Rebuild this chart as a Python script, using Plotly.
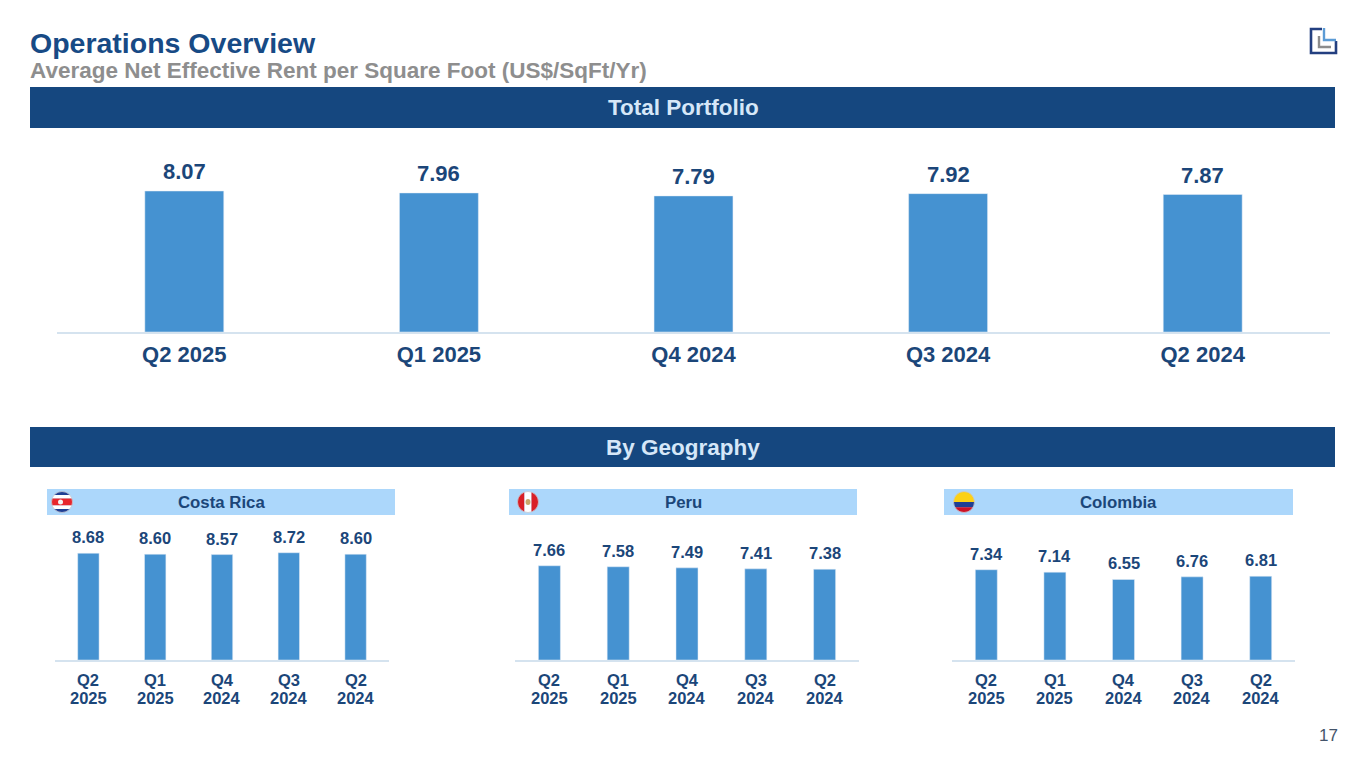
import numpy as np
import plotly.graph_objects as go

# ---------------- data ----------------
quarters = ["Q2 2025", "Q1 2025", "Q4 2024", "Q3 2024", "Q2 2024"]
total_portfolio = [8.07, 7.96, 7.79, 7.92, 7.87]
costa_rica = [8.68, 8.60, 8.57, 8.72, 8.60]
peru = [7.66, 7.58, 7.49, 7.41, 7.38]
colombia = [7.34, 7.14, 6.55, 6.76, 6.81]

W, H = 1365, 768
FONT = "Liberation Sans, Arial, sans-serif"
DARK = "#1b4679"
BAR = "#4592d1"
BANNER = "#15477f"
HEADER = "#acd7fb"
AXLINE = "#d5e3ef"


def px(x):
    return x / W


def py(y):
    return 1 - y / H


fig = go.Figure()

# ---- top chart ----
fig.add_trace(go.Bar(x=quarters, y=total_portfolio, marker_color=BAR, width=0.31,
                     xaxis="x", yaxis="y", showlegend=False, hoverinfo="skip"))
annotations = []
for q, v in zip(quarters, total_portfolio):
    annotations.append(dict(x=q, y=v, xref="x", yref="y", text=f"{v:.2f}", showarrow=False,
                            yanchor="bottom", yshift=5,
                            font=dict(family=FONT, size=22, color=DARK, weight="bold")))

layout_axes = dict(
    xaxis=dict(domain=[px(57), px(1330)], showline=True, linecolor=AXLINE, linewidth=1.5,
               ticks="", showgrid=False, zeroline=False, fixedrange=True, ticklabelstandoff=2,
               tickfont=dict(family=FONT, size=22, color=DARK, weight="bold"), anchor="y"),
    yaxis=dict(domain=[py(332), py(150)], range=[0, 182 / 17.47], visible=False, anchor="x"),
)

small = [
    ("Costa Rica", costa_rica, 55, 389, 47, 395),
    ("Peru", peru, 515, 859, 509, 857),
    ("Colombia", colombia, 952, 1295, 944, 1293),
]
for i, (name, vals, x0, x1, hx0, hx1) in enumerate(small, start=2):
    xa, ya = f"x{i}", f"y{i}"
    fig.add_trace(go.Bar(x=quarters, y=vals, marker_color=BAR, width=0.32,
                         xaxis=xa, yaxis=ya, showlegend=False, hoverinfo="skip"))
    for q, v in zip(quarters, vals):
        annotations.append(dict(x=q, y=v, xref=xa, yref=ya, text=f"{v:.2f}", showarrow=False,
                                yanchor="bottom", yshift=5,
                                font=dict(family=FONT, size=16.5, color=DARK, weight="bold")))
        # two-line category label (quarter / year) under the axis
        qq, yy = q.split(" ")
        for txt, shift in ((qq, -11), (yy, -29)):
            annotations.append(dict(x=q, y=0, xref=xa, yref=ya, text=txt, showarrow=False,
                                    yanchor="middle", yshift=shift - 9,
                                    font=dict(family=FONT, size=16.5, color=DARK, weight="bold")))
    layout_axes[f"xaxis{i}"] = dict(domain=[px(x0), px(x1)], showline=True, linecolor=AXLINE,
                                    linewidth=1.5, ticks="", showgrid=False, zeroline=False,
                                    showticklabels=False, anchor=ya)
    layout_axes[f"yaxis{i}"] = dict(domain=[py(660), py(530)], range=[0, 130 / 12.3],
                                    visible=False, anchor=xa)

shapes = []
# banners
for (y0, y1, label) in [(87, 128, "Total Portfolio"), (427, 467, "By Geography")]:
    shapes.append(dict(type="rect", xref="paper", yref="paper", x0=px(30), x1=px(1335),
                       y0=py(y1), y1=py(y0), fillcolor=BANNER, line_width=0, layer="below"))
    annotations.append(dict(x=px(683), y=py((y0 + y1) / 2), xref="paper", yref="paper",
                            text=label, showarrow=False, xanchor="center", yanchor="middle",
                            font=dict(family=FONT, size=22.5, color="#d6e7f8", weight="bold")))

# small headers
for (name, vals, x0, x1, hx0, hx1) in small:
    shapes.append(dict(type="rect", xref="paper", yref="paper", x0=px(hx0), x1=px(hx1),
                       y0=py(515), y1=py(489), fillcolor=HEADER, line_width=0, layer="below"))
    annotations.append(dict(x=px((hx0 + hx1) / 2), y=py(502), xref="paper", yref="paper",
                            text=name, showarrow=False, xanchor="center", yanchor="middle",
                            font=dict(family=FONT, size=16.8, color=DARK, weight="bold")))


def band_path(cx, cy, r, a, b, vertical=False, n=24):
    """Closed path of the part of a circle between offsets a..b (pixels)."""
    ts = np.linspace(a, b, n)
    right = [(np.sqrt(max(r * r - t * t, 0)), t) for t in ts]
    left = [(-np.sqrt(max(r * r - t * t, 0)), t) for t in ts[::-1]]
    pts = right + left
    if vertical:
        pts = [(t, s) for (s, t) in pts]
    d = "M " + " L ".join(f"{px(cx + u):.5f},{py(cy + v):.5f}" for u, v in pts) + " Z"
    return d


def flag(cx, cy, r, bands, vertical=False):
    for (a, b, col) in bands:
        shapes.append(dict(type="path", xref="paper", yref="paper",
                           path=band_path(cx, cy, r, a * 2 * r - r, b * 2 * r - r, vertical),
                           fillcolor=col, line_width=0))


r = 10.5
flag(62, 502, r, [(0, 1 / 6, "#1f3f94"), (1 / 6, 2 / 6, "#ffffff"), (2 / 6, 4 / 6, "#e8262c"),
                  (4 / 6, 5 / 6, "#ffffff"), (5 / 6, 1, "#1f3f94")])
shapes.append(dict(type="circle", xref="paper", yref="paper", x0=px(58), x1=px(63),
                   y0=py(504.5), y1=py(499.5), fillcolor="#f3f3f3", line_width=0))
flag(528, 502, r, [(0, 1 / 3, "#d91f26"), (1 / 3, 2 / 3, "#ffffff"), (2 / 3, 1, "#d91f26")],
     vertical=True)
shapes.append(dict(type="circle", xref="paper", yref="paper", x0=px(525.5), x1=px(530.5),
                   y0=py(505), y1=py(499), fillcolor="#c9a86a", line_width=0))
flag(964, 502, r, [(0, 0.5, "#fcd116"), (0.5, 0.75, "#1f3f94"), (0.75, 1, "#ce1126")])
for cx in (62, 528, 964):
    shapes.append(dict(type="circle", xref="paper", yref="paper", x0=px(cx - r), x1=px(cx + r),
                       y0=py(502 + r), y1=py(502 - r), line=dict(color="#c8c8d0", width=0.8)))


def line_path(pts):
    return "M " + " L ".join(f"{px(x):.5f},{py(y):.5f}" for x, y in pts)


# logo
shapes.append(dict(type="path", xref="paper", yref="paper",
                   path=line_path([(1322, 29), (1311, 29), (1311, 53), (1336, 53), (1336, 41)]),
                   line=dict(color="#233f80", width=2.6)))
shapes.append(dict(type="path", xref="paper", yref="paper",
                   path=line_path([(1324, 28), (1324, 40), (1336, 40)]),
                   line=dict(color="#5b9bd5", width=2.4)))
shapes.append(dict(type="path", xref="paper", yref="paper",
                   path=line_path([(1319, 36), (1319, 47), (1331, 47)]),
                   line=dict(color="#8c8c8c", width=2.4)))

# titles
annotations.append(dict(x=px(28), y=py(43), xref="paper", yref="paper", text="Operations Overview",
                        showarrow=False, xanchor="left", yanchor="middle",
                        font=dict(family=FONT, size=28.5, color="#174a85", weight="bold")))
annotations.append(dict(x=px(28), y=py(70), xref="paper", yref="paper",
                        text="Average Net Effective Rent per Square Foot (US$/SqFt/Yr)",
                        showarrow=False, xanchor="left", yanchor="middle",
                        font=dict(family=FONT, size=22.5, color="#8e8e8e", weight="bold")))
annotations.append(dict(x=px(1328), y=py(735), xref="paper", yref="paper", text="17",
                        showarrow=False, xanchor="center", yanchor="middle",
                        font=dict(family=FONT, size=17, color="#44546a")))

fig.update_layout(
    width=W, height=H, margin=dict(l=0, r=0, t=0, b=0),
    paper_bgcolor="white", plot_bgcolor="white",
    shapes=shapes, annotations=annotations, bargap=0.5,
    **layout_axes,
)

fig.write_html("out.html", config={"displayModeBar": False, "staticPlot": True},
               post_script="document.body.style.margin='0';")
